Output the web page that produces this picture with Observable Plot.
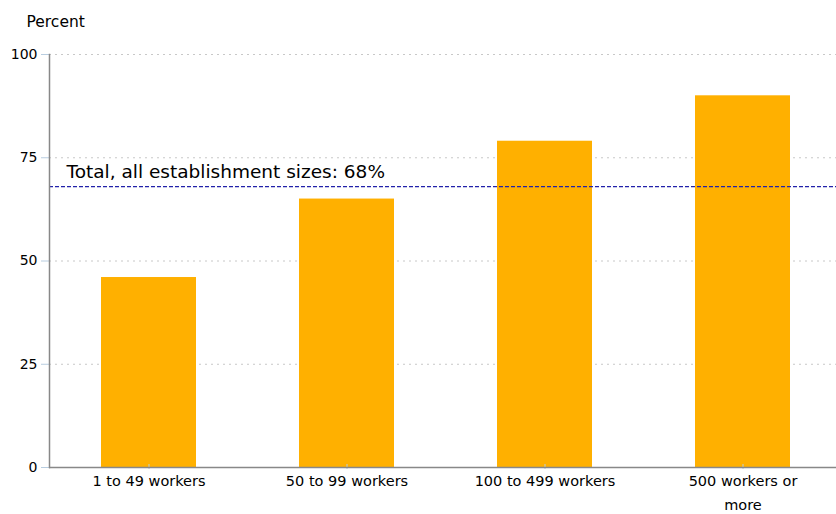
<!DOCTYPE html>
<html>
<head>
<meta charset="utf-8">
<script src="https://cdn.jsdelivr.net/npm/d3@7"></script>
<script src="https://cdn.jsdelivr.net/npm/@observablehq/plot@0.6"></script>
<style>
  body { margin: 0; background: #fff; }
  svg { display: block; }
</style>
</head>
<body>
<div id="chart"></div>
<script>
const categories = ["1 to 49 workers", "50 to 99 workers", "100 to 499 workers", "500 workers or more"];
const tickLabels = ["1 to 49 workers", "50 to 99 workers", "100 to 499 workers", "500 workers or\nmore"];
const values = [46, 65, 79, 90];
const totalValue = 68;
const totalLabel = "Total, all establishment sizes: 68%";
const yTicks = [0, 25, 50, 75, 100];
const gridTicks = [25, 50, 75, 100];

const data = categories.map((c, i) => ({category: c, value: values[i]}));
const labelMap = new Map(categories.map((c, i) => [c, tickLabels[i]]));

const chart = Plot.plot({
  width: 836,
  height: 514,
  marginLeft: 49,
  marginTop: 54,
  marginBottom: 47,
  marginRight: 0,
  style: {fontFamily: "DejaVu Sans, sans-serif", fontSize: "12px", color: "#000", background: "#fff"},
  x: {domain: categories, range: [49, 842], paddingInner: 0.52, paddingOuter: 0.26},
  y: {domain: [0, 100], range: [467, 54]},
  marks: [
    Plot.ruleY(gridTicks, {stroke: "#c8c8c8", strokeDasharray: "2,4", strokeWidth: 1}),
    Plot.barY(data, {x: "category", y: "value", fill: "#ffb000"}),
    Plot.ruleY([totalValue], {stroke: "#2222aa", strokeDasharray: "4,2", strokeWidth: 1.2}),
    Plot.text([totalLabel], {frameAnchor: "left", y: [totalValue], text: d => d, dx: 17, dy: -9, textAnchor: "start", lineAnchor: "bottom", fontSize: 18.5, fill: "#000"}),
    Plot.axisY({ticks: yTicks, tickSize: 8, tickPadding: 4, stroke: "#b8cde0", fontSize: 14, label: null}),
    Plot.axisX({tickSize: 5, tickPadding: 0, dy: -3, stroke: "#b8cde0", fontSize: 14.5, lineHeight: 1.65, label: null, tickFormat: d => labelMap.get(d)}),
    Plot.frame({anchor: "left", stroke: "#888", strokeWidth: 1.5}),
    Plot.ruleY([0], {stroke: "#888", strokeWidth: 1.5}),
    Plot.text(["Percent"], {frameAnchor: "top-left", text: d => d, dx: -23, dy: -39, textAnchor: "start", fontSize: 15.5, fill: "#000"})
  ]
});
document.getElementById("chart").appendChild(chart);
</script>
</body>
</html>
